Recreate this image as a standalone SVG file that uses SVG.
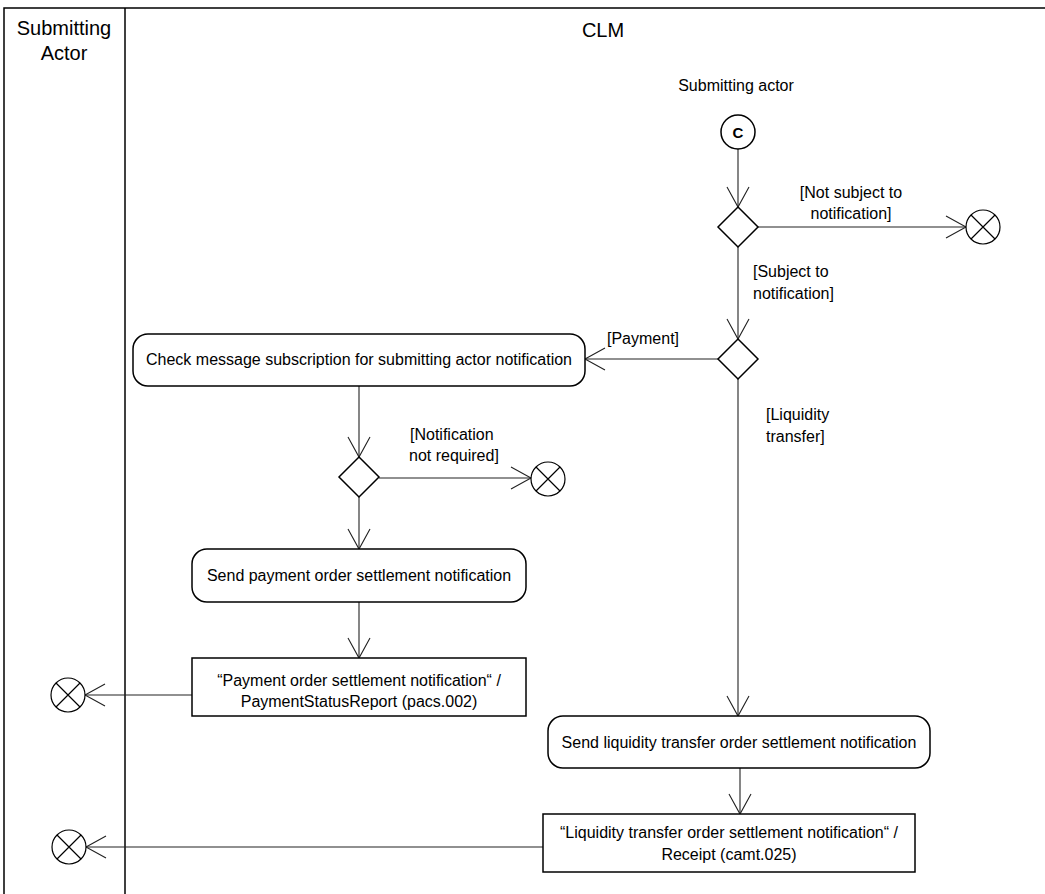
<svg xmlns="http://www.w3.org/2000/svg" width="1045" height="894" viewBox="0 0 1045 894">
<style>
text{font-family:"Liberation Sans",Arial,sans-serif;fill:#000}
.h{font-size:20px;text-anchor:middle}
.t{font-size:16px}
.c{text-anchor:middle}
.act{fill:#fff;stroke:#000;stroke-width:1.5}
.dec{fill:#fff;stroke:#000;stroke-width:1.5}
.end{fill:#fff;stroke:#000;stroke-width:1.2}
.x{stroke:#000;stroke-width:1.2}
.e{fill:none;stroke:#222;stroke-width:1.1;marker-end:url(#arr)}
</style>
<defs>
<marker id="arr" markerUnits="userSpaceOnUse" viewBox="-1 -1 23 24" markerWidth="23" markerHeight="24" refX="20" refY="11" orient="auto" overflow="visible">
<path d="M0,0 L20,11 L0,22" fill="none" stroke="#222" stroke-width="1.1"/>
</marker>
</defs>
<rect width="1045" height="894" fill="#fff"/>
<g id="lanes">
<rect x="4" y="8" width="1100" height="1000" fill="none" stroke="#000" stroke-width="1.5"/>
<line x1="125" y1="8" x2="125" y2="894" stroke="#000" stroke-width="1.5"/>
<text class="h" x="64" y="35">Submitting</text>
<text class="h" x="64" y="60">Actor</text>
<text class="h" x="603" y="37">CLM</text>
</g>
<g id="connectors">
<line class="e" x1="738" y1="149" x2="738" y2="207"/>
<line class="e" x1="758" y1="227" x2="966" y2="227"/>
<line class="e" x1="738" y1="247" x2="738" y2="339"/>
<line class="e" x1="718" y1="359" x2="585" y2="359"/>
<line class="e" x1="738" y1="379" x2="738" y2="716"/>
<line class="e" x1="359" y1="386" x2="359" y2="457"/>
<line class="e" x1="379" y1="478" x2="531" y2="478"/>
<line class="e" x1="359" y1="497" x2="359" y2="549"/>
<line class="e" x1="359" y1="602" x2="359" y2="658"/>
<line class="e" x1="192" y1="695" x2="85" y2="695"/>
<line class="e" x1="740" y1="768" x2="740" y2="814"/>
<line class="e" x1="543" y1="847" x2="86" y2="847"/>
<text class="t c" x="851" y="198">[Not subject to</text>
<text class="t c" x="851" y="219">notification]</text>
<text class="t" x="753" y="277">[Subject to</text>
<text class="t" x="753" y="299">notification]</text>
<text class="t" x="607" y="344">[Payment]</text>
<text class="t" x="766" y="420">[Liquidity</text>
<text class="t" x="766" y="442">transfer]</text>
<text class="t" x="410" y="440">[Notification</text>
<text class="t" x="409" y="461">not required]</text>
</g>
<g id="start">
<text class="t c" x="736" y="91">Submitting actor</text>
<circle cx="738" cy="132" r="17" fill="#fff" stroke="#000" stroke-width="1.5"/>
<text x="738" y="138" font-size="15" font-weight="bold" text-anchor="middle">C</text>
</g>
<g id="dec1"><path class="dec" d="M738,207 L758,227 L738,247 L718,227 Z"/></g>
<g id="end1"><circle class="end" cx="983" cy="227" r="17"/><path class="x" d="M971,215 L995,239 M995,215 L971,239"/></g>
<g id="dec2"><path class="dec" d="M738,339 L758,359 L738,379 L718,359 Z"/></g>
<g id="check">
<rect class="act" x="133" y="334" width="452" height="52" rx="15"/>
<text class="t c" x="359" y="365">Check message subscription for submitting actor notification</text>
</g>
<g id="dec3"><path class="dec" d="M359,457 L379,477 L359,497 L339,477 Z"/></g>
<g id="end3"><circle class="end" cx="548" cy="479" r="17"/><path class="x" d="M536,467 L560,491 M560,467 L536,491"/></g>
<g id="sendpay">
<rect class="act" x="192" y="549" width="334" height="53" rx="15"/>
<text class="t c" x="359" y="581">Send payment order settlement notification</text>
</g>
<g id="pacs">
<rect class="act" x="192" y="658" width="334" height="58"/>
<text class="t c" x="359" y="686">“Payment order settlement notification“ /</text>
<text class="t c" x="359" y="707">PaymentStatusReport (pacs.002)</text>
</g>
<g id="end4"><circle class="end" cx="68" cy="695" r="17"/><path class="x" d="M56,683 L80,707 M80,683 L56,707"/></g>
<g id="sendliq">
<rect class="act" x="548" y="716" width="382" height="52" rx="15"/>
<text class="t c" x="739" y="748">Send liquidity transfer order settlement notification</text>
</g>
<g id="camt">
<rect class="act" x="543" y="814" width="372" height="58"/>
<text class="t c" x="729" y="838">“Liquidity transfer order settlement notification“ /</text>
<text class="t c" x="729" y="860">Receipt (camt.025)</text>
</g>
<g id="end5"><circle class="end" cx="69" cy="847" r="17"/><path class="x" d="M57,835 L81,859 M81,835 L57,859"/></g>
</svg>
